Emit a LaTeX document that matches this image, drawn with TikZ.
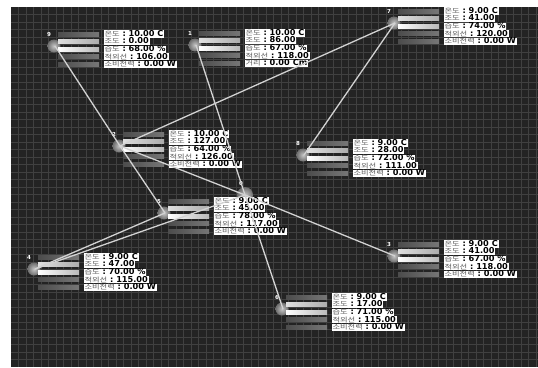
\documentclass[tikz,border=0pt]{standalone}
\usepackage{fontspec}
\usepackage{graphicx}
\newfontfamily\kr{Noto Sans CJK KR}
\newfontfamily\numf{DejaVu Sans}
\definecolor{panel}{HTML}{232323}
\definecolor{gridc}{HTML}{404040}
\definecolor{wire}{HTML}{D2D2D2}
\definecolor{kcol}{HTML}{5C5C5C}
\definecolor{bardark}{HTML}{4C4C4C}
\definecolor{barmid}{HTML}{767676}
\tikzset{
  tline/.style={anchor=west, fill=white, inner xsep=0.8pt, inner ysep=0pt,
    text height=5.9pt, text depth=1.4pt, font=\fontsize{8.2}{7.4}\selectfont, text=black},
  numlbl/.style={text=white, font=\fontsize{5.5}{5.5}\selectfont\numf\bfseries, inner sep=0pt},
  wireline/.style={draw=wire, line width=1.3pt},
  iconshade/.style={inner color=gray!45, outer color=gray!85!black},
}
\newcommand\kv[2]{\scalebox{1.25}[1]{\fontsize{6.6}{7}\selectfont\kr\color{kcol}#1}{\numf\bfseries\ :\ #2}}
\newcommand\sensor[8]{%
  \coordinate (s#1) at (#2-3,#3+12);
  \shade[iconshade] (#2-4,#3+12) circle (6.5);
  \shade[left color=bardark,right color=barmid] (#2,#3-2) rectangle (#2+41,#3+2);
  \shade[left color=gray!25,right color=gray!65] (#2,#3+5.6) rectangle (#2+41,#3+9.6);
  \shade[left color=white,right color=gray!55] (#2,#3+13.2) rectangle (#2+41,#3+17.2);
  \shade[left color=bardark,right color=barmid] (#2,#3+20.8) rectangle (#2+41,#3+24.8);
  \shade[left color=bardark,right color=barmid] (#2,#3+28.4) rectangle (#2+41,#3+32.4);
  \node[numlbl] (n#1) at (#2-9,#3+0.5) {#1};
  \node[tline] (t#1a) at (#2+45.5,#3) {\kv{온도}{#4}};
  \node[tline] (t#1b) at (#2+45.5,#3+7.6) {\kv{조도}{#5}};
  \node[tline] (t#1c) at (#2+45.5,#3+15.2) {\kv{습도}{#6}};
  \node[tline] (t#1d) at (#2+45.5,#3+22.8) {\kv{적외선}{#7}};
  \node[tline] (t#1e) at (#2+45.5,#3+30.4) {#8};
}
\begin{document}
\begin{tikzpicture}[x=1pt,y=-1pt]
\useasboundingbox (0,0) rectangle (538,367);
\fill[white] (0,0) rectangle (538,367);
\fill[panel] (11,7) rectangle (538,367);
\foreach \i in {1,...,70} {\draw[gridc, line width=0.8pt] ({11+7.5*\i},7) -- ({11+7.5*\i},367);}
\foreach \j in {1,...,47} {\draw[gridc, line width=0.8pt] (11,{7+7.5*\j}) -- (538,{7+7.5*\j});}

\sensor{9}{58}{34}{10.00 C}{0.00}{68.00 \%}{106.00}{\kv{소비전력}{0.00 W}}
\sensor{1}{199}{33}{10.00 C}{86.00}{67.00 \%}{118.00}{\kv{거리}{0.00 Cm}}
\sensor{7}{398}{11}{9.00 C}{41.00}{74.00 \%}{120.00}{\kv{소비전력}{0.00 W}}
\sensor{2}{123}{134}{10.00 C}{127.00}{64.00 \%}{126.00}{\kv{소비전력}{0.00 W}}
\sensor{8}{307}{143}{9.00 C}{28.00}{72.00 \%}{111.00}{\kv{소비전력}{0.00 W}}
\shade[iconshade] (245,195) circle (8);
\coordinate (s0) at (245,195);
\node[numlbl] (n0) at (241,183) {0};
\sensor{5}{168}{201}{9.00 C}{45.00}{78.00 \%}{117.00}{\kv{소비전력}{0.00 W}}
\sensor{4}{38}{257}{9.00 C}{47.00}{70.00 \%}{115.00}{\kv{소비전력}{0.00 W}}
\sensor{3}{398}{244}{9.00 C}{41.00}{67.00 \%}{118.00}{\kv{소비전력}{0.00 W}}
\sensor{6}{286}{297}{9.00 C}{17.00}{71.00 \%}{115.00}{\kv{소비전력}{0.00 W}}

\draw[wireline] (s9) -- (s2);
\draw[wireline] (s2) -- (s5);
\draw[wireline] (s7) -- (s2);
\draw[wireline] (s7) -- (s8);
\draw[wireline] (s1) -- (s0);
\draw[wireline] (s0) -- (s6);
\draw[wireline] (s2) -- (s0);
\draw[wireline] (s0) -- (s3);
\draw[wireline] (s4) -- (s5);
\draw[wireline] (s4) -- (s0);
\end{tikzpicture}
\end{document}
